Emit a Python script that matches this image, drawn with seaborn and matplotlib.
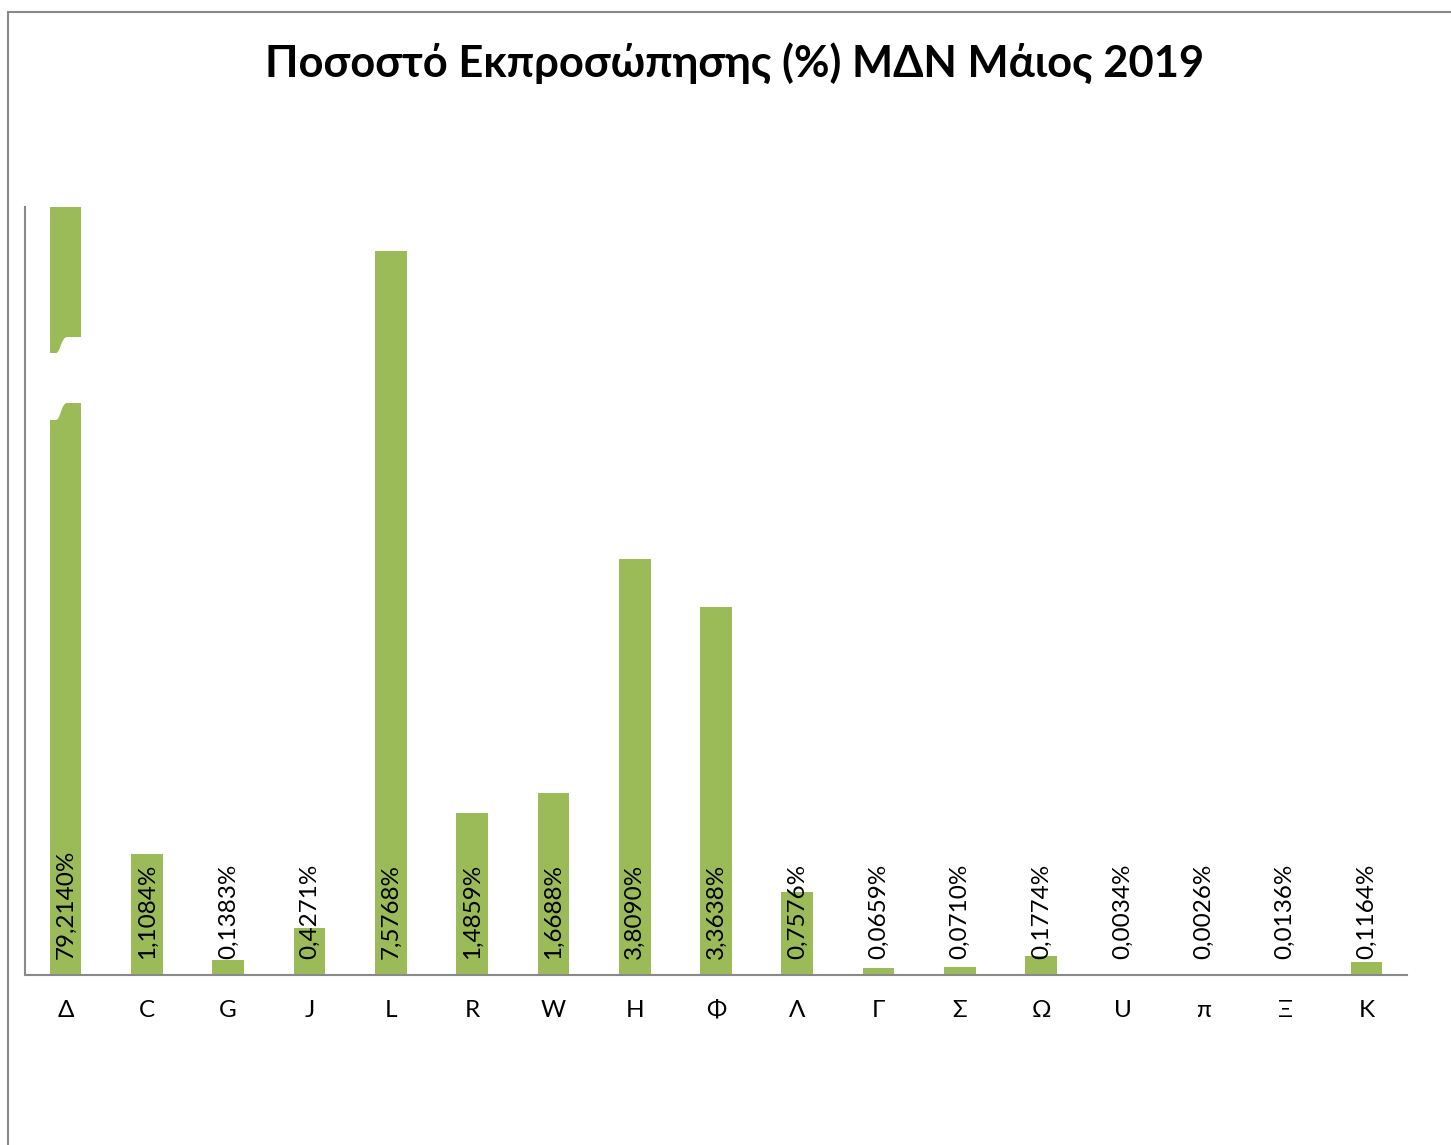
import matplotlib
matplotlib.use("Agg")
import matplotlib.pyplot as plt
import seaborn as sns
from matplotlib.patches import Rectangle, PathPatch
from matplotlib.path import Path
import matplotlib.transforms as mtransforms

# ---- data ----
categories = ["Δ", "C", "G", "J", "L", "R", "W", "H", "Φ", "Λ", "Γ", "Σ", "Ω", "U", "π", "Ξ", "K"]
values = [79.2140, 1.1084, 0.1383, 0.4271, 7.5768, 1.4859, 1.6688, 3.8090, 3.3638,
          0.7576, 0.0659, 0.0710, 0.1774, 0.0034, 0.0026, 0.0136, 0.1164]
# heights as drawn in the reference (Δ is cut by the axis break, L is drawn shortened)
drawn_heights = [79.2140, 1.1084, 0.1383, 0.4271, 6.62, 1.4859, 1.6688, 3.8090, 3.3638,
                 0.7576, 0.0659, 0.0710, 0.1774, 0.0034, 0.0026, 0.0136, 0.1164]
value_labels = ["79,2140%", "1,1084%", "0,1383%", "0,4271%", "7,5768%", "1,4859%", "1,6688%",
                "3,8090%", "3,3638%", "0,7576%", "0,0659%", "0,0710%", "0,1774%", "0,0034%",
                "0,0026%", "0,0136%", "0,1164%"]
title = "Ποσοστό Εκπροσώπησης (%) ΜΔΝ Μάιος 2019"

sns.set_theme(style="white")
plt.rcParams["font.family"] = ["Lato", "DejaVu Sans"]

W, H = 1451, 1145
fig = plt.figure(figsize=(W / 100, H / 100), dpi=100)
ax = fig.add_axes([25 / W, 1 - 975 / H, (1407 - 25) / W, (975 - 207) / H])

bar_color = "#9BBB59"
sns.barplot(x=categories, y=drawn_heights, order=categories, color=bar_color,
            saturation=1, width=0.39, ax=ax, linewidth=0)

ax.set_xlim(-0.5, len(categories) - 0.5)
ax.set_ylim(0, 7.027)
ax.set_yticks([])
ax.set_ylabel("")
ax.set_xlabel("")
ax.tick_params(axis="x", length=0, pad=18, labelsize=17.5, colors="black")

for s in ["top", "right"]:
    ax.spines[s].set_visible(False)
for s in ["left", "bottom"]:
    ax.spines[s].set_visible(True)
    ax.spines[s].set_color("#898989")
    ax.spines[s].set_linewidth(1.5)

# value labels, rotated, anchored near base
offset = mtransforms.offset_copy(ax.transData, fig=fig, x=0, y=16, units="dots")
for i, lab in enumerate(value_labels):
    ax.text(i, 0, lab, rotation=90, ha="center", va="bottom", fontsize=17.5,
            color="black", transform=offset)

# axis break mark on the first bar
bt = mtransforms.blended_transform_factory(ax.transData, fig.transFigure)
def fy(py):
    return 1 - py / H
x0, x1 = -0.32, 0.33
xm = 0.0
verts = [
    (x0, fy(353)),
    (xm - 0.12, fy(353)),
    (xm - 0.06, fy(353)), (xm - 0.06, fy(337)), (xm + 0.02, fy(337)),
    (x1, fy(337)),
    (x1, fy(403)),
    (xm + 0.02, fy(403)),
    (xm - 0.06, fy(403)), (xm - 0.06, fy(420)), (xm - 0.12, fy(420)),
    (x0, fy(420)),
    (x0, fy(353)),
]
codes = [Path.MOVETO, Path.LINETO, Path.CURVE4, Path.CURVE4, Path.CURVE4,
         Path.LINETO, Path.LINETO, Path.LINETO, Path.CURVE4, Path.CURVE4, Path.CURVE4,
         Path.LINETO, Path.CLOSEPOLY]
patch = PathPatch(Path(verts, codes), facecolor="white", edgecolor="none",
                  transform=bt, clip_on=False, zorder=5)
ax.add_patch(patch)

fig.text(735 / W, 1 - 63 / H, title, ha="center", va="center", fontsize=31.3,
         fontweight="bold", color="black")

# outer chart border
fig.patches.append(Rectangle((8 / W, -0.01), 1.2, 1 - 12 / H + 0.01,
                             transform=fig.transFigure, fill=False,
                             edgecolor="#898989", linewidth=1.5))

fig.savefig("out.png", dpi=100)
